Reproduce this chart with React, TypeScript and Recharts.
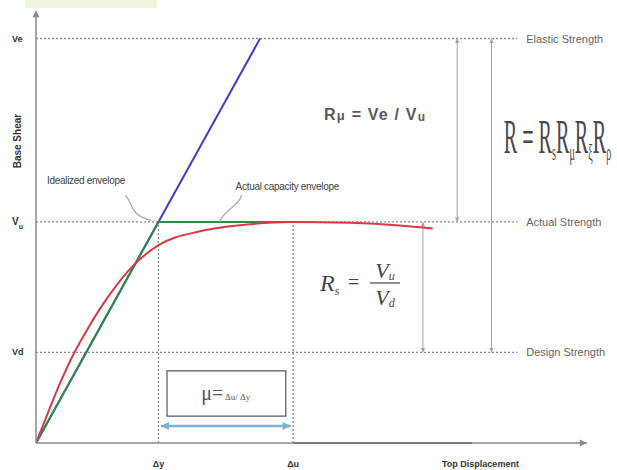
import { ComposedChart, Line, XAxis, YAxis, ReferenceLine, ReferenceDot, ReferenceArea } from 'recharts';

// displacement axis (Δy = 1)
const displacementTicks = [1, 2.1];
const displacementLabels = ['Δy', 'Δu'];

// strength levels (Vu = 1)
const strengthTicks = [0.41, 1, 1.83];
const strengthSymbols = ['Vd', 'Vu', 'Ve'];
const strengthNames = ['Design Strength', 'Actual Strength', 'Elastic Strength'];

const elasticResponse = [
  { x: 0, y: 0 },
  { x: 1.83, y: 1.83 },
];

const idealizedEnvelope = [
  { x: 0, y: 0 },
  { x: 1, y: 1 },
  { x: 2.1, y: 1 },
];

const actualEnvelope = [
  { x: 0, y: 0 },
  { x: 0.1, y: 0.14 },
  { x: 0.2, y: 0.275 },
  { x: 0.3, y: 0.395 },
  { x: 0.42, y: 0.515 },
  { x: 0.6, y: 0.67 },
  { x: 0.79, y: 0.8 },
  { x: 1, y: 0.895 },
  { x: 1.34, y: 0.958 },
  { x: 1.75, y: 0.99 },
  { x: 2.08, y: 1 },
  { x: 2.57, y: 0.996 },
  { x: 2.97, y: 0.984 },
  { x: 3.24, y: 0.97 },
];

// vertical factor arrows: [x, from, to]
const factorArrows = [
  [3.16, 0.41, 1],
  [3.44, 1, 1.83],
  [3.72, 0.41, 1.83],
];

const X_MAX = 4.5;
const Y_MAX = 1.95;
const LEVEL_END = 3.93;

const sans = 'Arial, "Liberation Sans", sans-serif';
const serif = '"Liberation Serif", "DejaVu Serif", serif';

const head = (x: number, y: number, ang: number, size: number, color: string) => {
  const a1 = ang + Math.PI - 0.45;
  const a2 = ang + Math.PI + 0.45;
  const pts = [
    [x, y],
    [x + size * Math.cos(a1), y + size * Math.sin(a1)],
    [x + size * Math.cos(a2), y + size * Math.sin(a2)],
  ];
  return <polygon points={pts.map((p) => p.join(',')).join(' ')} fill={color} />;
};

const doubleArrow = (color: string, width: number, size: number) => (p: any) => {
  const { x1, y1, x2, y2 } = p;
  const ang = Math.atan2(y2 - y1, x2 - x1);
  return (
    <g>
      <line x1={x1} y1={y1} x2={x2} y2={y2} stroke={color} strokeWidth={width} />
      {head(x2, y2, ang, size, color)}
      {head(x1, y1, ang + Math.PI, size, color)}
    </g>
  );
};

const levelLine = (name: string) => (p: any) => (
  <g>
    <line x1={p.x1} y1={p.y1} x2={p.x2} y2={p.y2} stroke="#8c8c8c" strokeWidth={1.3} strokeDasharray="2 2" />
    <text x={p.x2 + 9} y={p.y2 + 4} fontFamily={sans} fontSize={11} fill="#666">
      {name}
    </text>
  </g>
);

const StrengthTick = (props: any) => {
  const { y, payload } = props;
  const i = strengthTicks.indexOf(payload.value);
  const s = strengthSymbols[i];
  if (s === 'Vu') {
    return (
      <text x={12} y={y + 3} fontFamily={sans} fontSize={10} fontWeight="bold" fill="#333">
        V<tspan dy={4} fontSize={7}>u</tspan>
      </text>
    );
  }
  return (
    <text x={12} y={y + 3} fontFamily={sans} fontSize={9} fontWeight="bold" fill="#333">
      {s}
    </text>
  );
};

const DisplacementTick = (props: any) => {
  const { x, y, payload } = props;
  const i = displacementTicks.indexOf(payload.value);
  return (
    <text x={x} y={y + 16} textAnchor="middle" fontFamily={sans} fontSize={9} fontWeight="bold" fill="#333">
      {displacementLabels[i]}
    </text>
  );
};

export default function App() {
  return (
    <div style={{ position: 'absolute', left: 0, top: 0, width: 617, height: 470, background: '#fff' }}>
      <div style={{ position: 'absolute', left: 25, top: 0, width: 132, height: 8, background: '#eef7dc' }} />
      <ComposedChart width={617} height={470} margin={{ top: 12, right: 30, bottom: 0, left: 0 }}>
        <XAxis
          type="number"
          dataKey="x"
          domain={[0, X_MAX]}
          ticks={displacementTicks}
          tick={<DisplacementTick />}
          tickLine={false}
          axisLine={{ stroke: '#8a8a8a', strokeWidth: 1.5 }}
          height={27}
          allowDataOverflow
        />
        <YAxis
          type="number"
          dataKey="y"
          domain={[0, Y_MAX]}
          ticks={strengthTicks}
          tick={<StrengthTick />}
          tickLine={false}
          axisLine={{ stroke: '#8a8a8a', strokeWidth: 1.5 }}
          width={36}
          allowDataOverflow
        />

        {strengthTicks.map((v, i) => (
          <ReferenceLine
            key={'lvl' + i}
            segment={[{ x: 0, y: v }, { x: LEVEL_END, y: v }]}
            shape={levelLine(strengthNames[i])}
          />
        ))}
        {displacementTicks.map((v, i) => (
          <ReferenceLine
            key={'dsp' + i}
            segment={[{ x: v, y: 0 }, { x: v, y: 1 }]}
            stroke="#8c8c8c"
            strokeWidth={1.3}
            strokeDasharray="2 2"
          />
        ))}
        {factorArrows.map(([x, a, b], i) => (
          <ReferenceLine
            key={'fa' + i}
            segment={[{ x, y: a }, { x, y: b }]}
            shape={doubleArrow('#97a3c0', 1, 5)}
          />
        ))}

        <ReferenceLine segment={[{ x: 2.1, y: 0 }, { x: 3.56, y: 0 }]} stroke="#555" strokeWidth={2} />
        <ReferenceLine
          segment={[{ x: 1.02, y: 0.077 }, { x: 2.08, y: 0.077 }]}
          shape={doubleArrow('#7fb0d8', 2.5, 9)}
        />

        <ReferenceArea
          x1={1.07}
          x2={2.04}
          y1={0.122}
          y2={0.326}
          fill="#fff"
          fillOpacity={1}
          stroke="#555"
          strokeWidth={1.2}
        />

        <Line data={elasticResponse} dataKey="y" type="linear" stroke="#3d3dcc" strokeWidth={2} dot={false} isAnimationActive={false} />
        <Line data={idealizedEnvelope} dataKey="y" type="linear" stroke="#2f8a43" strokeWidth={2} dot={false} isAnimationActive={false} />
        <Line data={actualEnvelope} dataKey="y" type="monotone" stroke="#d73a45" strokeWidth={2} dot={false} isAnimationActive={false} />

        {/* axis arrow heads */}
        <ReferenceDot x={0} y={Y_MAX} r={0} shape={(p: any) => head(p.cx, p.cy - 2, -Math.PI / 2, 8, '#8a8a8a')} />
        <ReferenceDot x={X_MAX} y={0} r={0} shape={(p: any) => head(p.cx, p.cy, 0, 8, '#8a8a8a')} />

        {/* annotations */}
        <ReferenceDot
          x={0}
          y={1.366}
          r={0}
          shape={(p: any) => (
            <text
              transform={`translate(${p.cx - 15},${p.cy}) rotate(-90)`}
              textAnchor="middle"
              fontFamily={sans}
              fontSize={10}
              fontWeight="bold"
              fill="#333"
            >
              Base Shear
            </text>
          )}
        />
        <ReferenceDot
          x={3.63}
          y={0}
          r={0}
          shape={(p: any) => (
            <text x={p.cx} y={p.cy + 24} textAnchor="middle" fontFamily={sans} fontSize={9} fontWeight="bold" fill="#333">
              Top Displacement
            </text>
          )}
        />
        <ReferenceDot
          x={0.09}
          y={1.17}
          r={0}
          shape={(p: any) => (
            <g>
              <text x={p.cx} y={p.cy} fontFamily={sans} fontSize={10} fill="#444" letterSpacing={-0.3}>
                Idealized envelope
              </text>
              <path
                d={`M${p.cx + 78},${p.cy + 11} C${p.cx + 86},${p.cy + 16} ${p.cx + 80},${p.cy + 30} ${p.cx + 104},${p.cy + 36}`}
                stroke="#aaa"
                strokeWidth={1.2}
                fill="none"
              />
            </g>
          )}
        />
        <ReferenceDot
          x={1.63}
          y={1.145}
          r={0}
          shape={(p: any) => (
            <g>
              <text x={p.cx} y={p.cy} fontFamily={sans} fontSize={10} fill="#444" letterSpacing={-0.3}>
                Actual capacity envelope
              </text>
              <path
                d={`M${p.cx + 6},${p.cy + 5} C${p.cx + 4},${p.cy + 16} ${p.cx - 12},${p.cy + 20} ${p.cx - 16},${p.cy + 32}`}
                stroke="#aaa"
                strokeWidth={1.2}
                fill="none"
              />
            </g>
          )}
        />
        <ReferenceDot
          x={2.77}
          y={1.46}
          r={0}
          shape={(p: any) => (
            <text x={p.cx} y={p.cy} textAnchor="middle" fontFamily={sans} fontSize={16} fontWeight="bold" fill="#5a5a5a" letterSpacing={1.2}>
              R<tspan fontSize={13}>μ</tspan> = Ve / V<tspan fontSize={12} dy={1}>u</tspan>
            </text>
          )}
        />
        <ReferenceDot
          x={3.82}
          y={1.31}
          r={0}
          shape={(p: any) => (
            <text
              transform={`translate(${p.cx},${p.cy}) scale(0.42,1)`}
              fontFamily={serif}
              fontSize={48}
              fill="#4a4a4a"
            >
              R = R<tspan fontSize={24} dy={7}>s</tspan>
              <tspan dy={-7}>R</tspan>
              <tspan fontSize={24} dy={7}>μ</tspan>
              <tspan dy={-7}>R</tspan>
              <tspan fontSize={24} dy={7}>ξ</tspan>
              <tspan dy={-7}>R</tspan>
              <tspan fontSize={24} dy={7}>ρ</tspan>
            </text>
          )}
        />
        <ReferenceDot
          x={2.32}
          y={0.724}
          r={0}
          shape={(p: any) => (
            <g fontFamily={serif} fontStyle="italic" fill="#444">
              <text x={p.cx} y={p.cy + 8} fontSize={24}>
                R<tspan fontSize={12} dy={4}>s</tspan>
              </text>
              <text x={p.cx + 28} y={p.cy + 6} fontSize={20} fontStyle="normal">=</text>
              <text x={p.cx + 65} y={p.cy - 5} textAnchor="middle" fontSize={22}>
                V<tspan fontSize={12} dy={2}>u</tspan>
              </text>
              <line x1={p.cx + 50} y1={p.cy} x2={p.cx + 80} y2={p.cy} stroke="#444" strokeWidth={1.2} />
              <text x={p.cx + 65} y={p.cy + 22} textAnchor="middle" fontSize={22}>
                V<tspan fontSize={12} dy={2}>d</tspan>
              </text>
            </g>
          )}
        />
        <ReferenceDot
          x={1.55}
          y={0.195}
          r={0}
          shape={(p: any) => (
            <text x={p.cx} y={p.cy} textAnchor="middle" fontFamily={serif} fontSize={20} fill="#555">
              μ=<tspan fontSize={9}> Δu/ Δy</tspan>
            </text>
          )}
        />
      </ComposedChart>
    </div>
  );
}
